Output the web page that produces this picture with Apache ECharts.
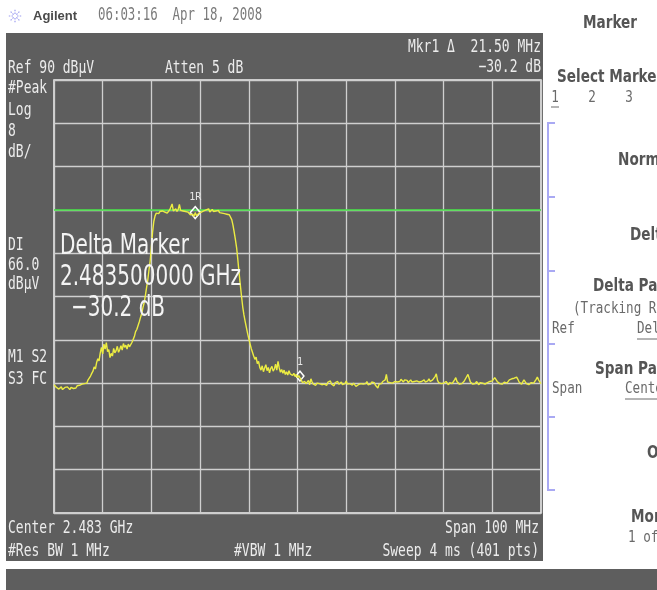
<!DOCTYPE html>
<html>
<head>
<meta charset="utf-8">
<script src="https://cdn.jsdelivr.net/npm/echarts@6/dist/echarts.min.js"></script>
<style>
  html, body { margin: 0; padding: 0; background: #ffffff; }
  #chart { width: 657px; height: 590px; }
</style>
</head>
<body>
<div id="chart"></div>
<script>
// ---- Sweep settings ----
const centerGHz = 2.483;
const spanMHz = 100;
const sweepPoints = 401;
const refLevel = 90;        // dBµV at the top graticule line
const dbPerDiv = 8;
const displayLine = 66.0;   // dBµV

// ---- Trace amplitude in dBµV, left to right over the 401 sweep points ----
const trace = [
  33.7, 33.4, 33.2, 33.5, 32.9, 33.1, 33.3, 32.8, 33.0, 33.2,
  32.9, 33.3, 33.1, 32.8, 33.2, 33.4, 33.0, 33.3, 33.1, 33.5,
  33.2, 33.6, 33.4, 33.8, 33.5, 33.9, 34.2, 34.0, 34.6, 34.9,
  35.3, 35.8, 36.2, 37.0, 36.6, 37.8, 38.5, 38.1, 39.6, 40.6,
  39.4, 41.2, 40.3, 41.5, 39.8, 40.2, 38.7, 39.5, 39.0, 40.4,
  39.6, 40.0, 40.8, 39.7, 40.2, 40.9, 40.1, 41.3, 40.6, 41.0,
  40.3, 41.2, 40.7, 41.0, 41.5, 41.8, 42.6, 43.5, 43.9, 44.2,
  45.3, 46.1, 46.8, 47.9, 48.8, 50.1, 51.6, 53.0, 54.9, 56.6,
  59.2, 62.0, 63.9, 64.9, 65.4, 65.6, 65.3, 65.7, 65.4, 65.8,
  65.5, 65.6, 65.9, 65.4, 65.7, 66.0, 66.3, 67.1, 65.8, 65.9,
  66.2, 65.7, 66.1, 67.0, 65.9, 65.6, 65.8, 65.5, 65.7, 65.4,
  65.6, 65.3, 65.1, 64.9, 65.2, 64.8, 65.5, 64.9, 65.1, 65.4,
  65.2, 65.6, 65.4, 65.8, 65.5, 66.0, 65.7, 66.2, 65.6, 65.9,
  66.1, 65.7, 66.0, 65.8, 65.6, 65.9, 65.5, 65.7, 65.4, 65.6,
  65.3, 65.5, 65.2, 65.3, 65.1, 64.8, 64.2, 63.2, 61.9, 60.5,
  59.0, 56.8, 54.4, 52.2, 50.1, 48.1, 46.6, 45.4, 44.3, 43.2,
  42.2, 41.3, 40.4, 39.7, 39.0, 38.4, 38.8, 37.6, 38.0, 36.9,
  36.4, 37.2, 36.1, 36.8, 37.4, 36.3, 36.9, 35.9, 36.7, 37.1,
  36.2, 36.6, 37.5, 36.4, 38.0, 36.8, 36.0, 36.5, 35.8, 36.4,
  35.6, 36.1, 35.5, 36.3, 35.7, 35.9, 35.4, 35.8, 35.2, 35.6,
  35.0, 35.4, 35.3,
  34.6, 34.1, 33.8, 34.3, 33.9, 34.0, 34.5, 33.7, 34.8, 34.2,
  33.8, 34.1, 33.6, 34.0, 34.3, 33.9, 34.2, 33.7, 34.0, 33.8,
  34.1, 33.6, 34.2, 33.9, 34.4, 33.8, 34.0, 33.5, 34.1, 33.9,
  34.3, 33.8, 34.0, 34.2, 33.7, 34.0, 33.9, 34.4, 33.8, 34.1,
  33.9, 34.2, 33.6, 34.0, 33.8, 33.4, 33.1, 33.7, 34.0, 33.9,
  34.2, 33.8, 34.1, 33.9, 34.3, 33.7, 34.0, 33.8, 34.2, 33.9,
  34.1, 33.6, 33.4, 33.1, 33.8, 34.0, 33.9, 34.3, 34.0, 34.6,
  35.6, 34.2, 33.9, 34.1, 33.8, 34.0, 33.9, 34.3, 34.6, 34.2,
  34.5, 34.3, 34.7, 34.4, 34.2, 34.6, 34.3, 34.5, 34.1, 34.4,
  34.6, 34.2, 34.5, 34.3, 34.0, 34.4, 34.7, 34.2, 34.5, 34.3,
  34.1, 34.6, 34.2, 34.0, 34.4, 34.8, 34.3, 34.1, 34.6, 34.9,
  35.2, 35.7, 34.5, 34.1, 34.3, 33.9, 34.2, 34.0, 33.8, 34.3,
  34.0, 33.7, 34.1, 34.4, 33.9, 34.2, 34.6, 35.0, 34.3, 34.0,
  33.8, 34.1, 33.9, 34.2, 34.4, 34.8, 35.1, 35.6, 34.9, 34.2,
  34.0, 33.8, 34.1, 33.9, 34.3, 34.0, 33.7, 34.1, 33.9, 34.0,
  34.2, 33.8, 34.0, 34.1, 33.9, 34.3, 34.0, 34.4, 34.7, 35.0,
  34.8, 34.3, 34.0, 33.9, 34.1, 33.8, 34.0, 34.2, 33.9, 34.0,
  34.3, 34.6, 34.4, 34.8, 34.5, 34.9, 34.6, 35.1, 34.7, 34.2,
  34.0, 33.8, 34.1, 34.6, 34.3, 33.9, 34.0, 33.7, 33.9, 34.1,
  33.8, 34.0, 34.3, 34.7, 35.1, 34.6, 34.2, 33.9
];

// ---- Marker 1: reference and delta positions, MHz from center ----
const markerRefOffsetMHz = -21.0;
const markerDeltaOffsetMHz = 0.5;

// ---- Annotation text ----
const headerDate = '06:03:16  Apr 18, 2008';
const leftAnnotations = [
  ['#Peak', 88], ['Log', 110], ['8', 131], ['dB/', 152],
  ['DI', 245], ['66.0', 265], ['dB\u00b5V', 284],
  ['M1 S2', 357], ['S3 FC', 379]
];

// ---------------------------------------------------------------------------
const stepMHz = spanMHz / (sweepPoints - 1);
const offsetOf = i => -spanMHz / 2 + i * stepMHz;
const indexOf = off => Math.round((off + spanMHz / 2) / stepMHz);
const seriesData = trace.map((v, i) => [offsetOf(i), v - refLevel]);

const refIdx = indexOf(markerRefOffsetMHz);
const deltaIdx = indexOf(markerDeltaOffsetMHz);
const refVal = trace[refIdx];
const deltaVal = trace[deltaIdx];
const deltaDb = (deltaVal - refVal).toFixed(1).replace('-', '\u2212');
const deltaMHz = (markerDeltaOffsetMHz - markerRefOffsetMHz).toFixed(2);
const deltaFreqGHz = (centerGHz + markerDeltaOffsetMHz / 1000).toFixed(9);

const MONO = "'DejaVu Sans Mono'";
const PANEL_TEXT = '#ececec';

function txt(x, y, text, o) {
  o = o || {};
  return {
    type: 'text', x: x, y: y, z: o.z != null ? o.z : 50, silent: true,
    scaleX: o.sx || 1, scaleY: o.sy || 1,
    style: {
      text: text,
      fill: o.fill || PANEL_TEXT,
      font: o.font || ('13px ' + MONO),
      align: o.align || 'left',
      verticalAlign: 'middle'
    }
  };
}
function ln(x1, y1, x2, y2, color, w, z) {
  return {
    type: 'line', silent: true, z: z != null ? z : 40,
    shape: { x1: x1, y1: y1, x2: x2, y2: y2 },
    style: { stroke: color, lineWidth: w }
  };
}

const graphics = [];
// instrument screen backgrounds
graphics.push({ type: 'rect', z: -10, silent: true, shape: { x: 6, y: 33, width: 537, height: 528 }, style: { fill: '#5e5e5e' } });
graphics.push({ type: 'rect', z: -10, silent: true, shape: { x: 6, y: 569, width: 651, height: 21 }, style: { fill: '#5e5e5e' } });

// logo burst
for (let k = 0; k < 8; k++) {
  const a = k * Math.PI / 4;
  graphics.push({
    type: 'line', silent: true, z: 40,
    shape: { x1: 15 + 2 * Math.cos(a), y1: 16 + 2 * Math.sin(a), x2: 15 + 7 * Math.cos(a), y2: 16 + 7 * Math.sin(a) },
    style: { stroke: '#9c9cf0', lineWidth: 1.2, lineDash: [1.5, 1.2] }
  });
}
graphics.push(txt(33, 16, 'Agilent', { font: "bold 13px 'Liberation Sans'", fill: '#4a4a4a' }));
graphics.push(txt(98, 16, headerDate, { font: '12.4px ' + MONO, fill: '#7a7a7a', sy: 1.35 }));

// top status lines
graphics.push(txt(8, 68, 'Ref ' + refLevel + ' dB\u00b5V', { sy: 1.35 }));
graphics.push(txt(165, 68, 'Atten 5 dB', { sy: 1.35 }));
graphics.push(txt(541, 47, 'Mkr1 \u0394  ' + deltaMHz + ' MHz', { align: 'right', sy: 1.35 }));
graphics.push(txt(541, 67, deltaDb + ' dB', { align: 'right', sy: 1.35 }));

// left column annotations
leftAnnotations.forEach(([t, y]) => graphics.push(txt(8, y, t, { sy: 1.35 })));

// bottom status lines
graphics.push(txt(8, 528, 'Center ' + centerGHz + ' GHz', { sy: 1.35 }));
graphics.push(txt(539, 528, 'Span ' + spanMHz + ' MHz', { align: 'right', sy: 1.35 }));
graphics.push(txt(8, 551, '#Res BW 1 MHz', { sy: 1.35 }));
graphics.push(txt(234, 551, '#VBW 1 MHz', { sy: 1.35 }));
graphics.push(txt(539, 551, 'Sweep 4 ms (' + sweepPoints + ' pts)', { align: 'right', sy: 1.35 }));

// marker readout block
const BIG = "20px 'DejaVu Sans'";
graphics.push(txt(60, 247, 'Delta Marker', { font: BIG, sy: 1.42, z: 60, fill: '#f4f4f4' }));
graphics.push(txt(60, 278, deltaFreqGHz + ' GHz', { font: BIG, sy: 1.42, z: 60, fill: '#f4f4f4' }));
graphics.push(txt(71, 309, deltaDb + ' dB', { font: BIG, sy: 1.42, z: 60, fill: '#f4f4f4' }));

// softkey menu
const KEY = "bold 17px 'DejaVu Sans'";
const KEYC = '#555555';
const SUB = '12.6px ' + MONO;
const SUBC = '#6a6a6a';
graphics.push(txt(583, 23, 'Marker', { font: KEY, fill: KEYC, sx: 0.8, sy: 1.08 }));
graphics.push(txt(557, 77, 'Select Marker', { font: KEY, fill: KEYC, sx: 0.8, sy: 1.08 }));
graphics.push(txt(555, 98, '1', { font: SUB, fill: SUBC, sy: 1.3, align: 'center' }));
graphics.push(txt(592, 98, '2', { font: SUB, fill: SUBC, sy: 1.3, align: 'center' }));
graphics.push(txt(629, 98, '3', { font: SUB, fill: SUBC, sy: 1.3, align: 'center' }));
graphics.push(ln(551, 107, 559, 107, SUBC, 1));
graphics.push(txt(618, 160, 'Normal', { font: KEY, fill: KEYC, sx: 0.8, sy: 1.08 }));
graphics.push(txt(630, 235, 'Delta', { font: KEY, fill: KEYC, sx: 0.8, sy: 1.08 }));
graphics.push(txt(593, 286, 'Delta Pair', { font: KEY, fill: KEYC, sx: 0.8, sy: 1.08 }));
graphics.push(txt(573, 309, '(Tracking Ref)', { font: SUB, fill: SUBC, sy: 1.3 }));
graphics.push(txt(552, 329, 'Ref', { font: SUB, fill: SUBC, sy: 1.3 }));
graphics.push(txt(637, 329, 'Delta', { font: SUB, fill: SUBC, sy: 1.3 }));
graphics.push(ln(637, 339, 657, 339, SUBC, 1));
graphics.push(txt(595, 369, 'Span Pair', { font: KEY, fill: KEYC, sx: 0.8, sy: 1.08 }));
graphics.push(txt(552, 389, 'Span', { font: SUB, fill: SUBC, sy: 1.3 }));
graphics.push(txt(625, 389, 'Center', { font: SUB, fill: SUBC, sy: 1.3 }));
graphics.push(ln(625, 399, 657, 399, SUBC, 1));
graphics.push(txt(647, 453, 'Off', { font: KEY, fill: KEYC, sx: 0.8, sy: 1.08 }));
graphics.push(txt(631, 517, 'More', { font: KEY, fill: KEYC, sx: 0.8, sy: 1.08 }));
graphics.push(txt(628, 538, '1 of 2', { font: SUB, fill: SUBC, sy: 1.3 }));

// softkey bracket
const BR = '#a9a9f3';
graphics.push(ln(548, 123, 548, 490, BR, 2));
[123, 197, 271, 344, 417, 490].forEach(y => graphics.push(ln(547, y, 555, y, BR, 2)));

const chart = echarts.init(document.getElementById('chart'), null, { renderer: 'canvas' });
chart.setOption({
  animation: false,
  backgroundColor: '#ffffff',
  grid: {
    left: 54, top: 80, width: 487, height: 433,
    show: true, borderColor: '#f2f2f2', borderWidth: 1.5, backgroundColor: 'transparent'
  },
  xAxis: {
    type: 'value', min: -spanMHz / 2, max: spanMHz / 2, interval: spanMHz / 10,
    axisLine: { show: false }, axisTick: { show: false }, axisLabel: { show: false },
    splitLine: { show: true, lineStyle: { color: '#cfcfcf', width: 1.3 } }
  },
  yAxis: {
    type: 'value', min: -10 * dbPerDiv, max: 0, interval: dbPerDiv,
    axisLine: { show: false }, axisTick: { show: false }, axisLabel: { show: false },
    splitLine: { show: true, lineStyle: { color: '#cfcfcf', width: 1.3 } }
  },
  graphic: graphics,
  series: [{
    type: 'line',
    data: seriesData,
    showSymbol: false,
    symbol: 'none',
    sampling: null,
    clip: true,
    z: 5,
    lineStyle: { color: '#ecec42', width: 1.4 },
    markLine: {
      silent: true, symbol: 'none', animation: false,
      label: { show: false },
      lineStyle: { color: '#3fe03f', width: 1.5, type: 'solid' },
      data: [{ yAxis: displayLine - refLevel }]
    },
    markPoint: {
      silent: true, animation: false,
      symbol: 'diamond',
      itemStyle: { color: 'rgba(0,0,0,0)', borderColor: '#ffffff', borderWidth: 1.5 },
      label: {
        show: true, position: 'top', distance: 3,
        color: '#e6e6e6', fontSize: 10, fontFamily: 'DejaVu Sans Mono',
        formatter: p => p.name
      },
      data: [
        { name: '1R', coord: [markerRefOffsetMHz, refVal - refLevel], symbolSize: [10, 12] },
        { name: '1', coord: [markerDeltaOffsetMHz, deltaVal - refLevel], symbolSize: [8, 10] }
      ]
    }
  }]
});
</script>
</body>
</html>
